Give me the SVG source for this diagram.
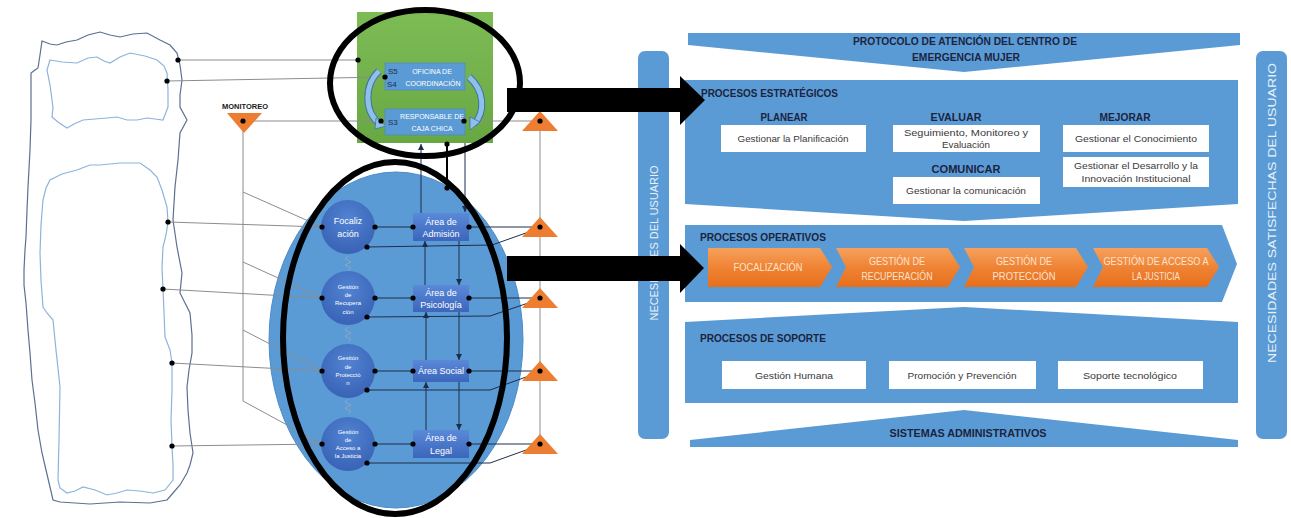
<svg xmlns="http://www.w3.org/2000/svg" width="1291" height="518" viewBox="0 0 1291 518">
<defs>
  <linearGradient id="gGreen" x1="0" y1="0" x2="0" y2="1"><stop offset="0" stop-color="#7dbb55"/><stop offset="1" stop-color="#68a843"/></linearGradient>
  <radialGradient id="gCircle" cx="0.5" cy="0.35" r="0.7"><stop offset="0" stop-color="#5283d3"/><stop offset="1" stop-color="#3760b3"/></radialGradient>
  <linearGradient id="gArea" x1="0" y1="0" x2="0" y2="1"><stop offset="0" stop-color="#5b89d9"/><stop offset="1" stop-color="#3b66bb"/></linearGradient>
  <linearGradient id="gOrange" x1="0" y1="0" x2="0" y2="1"><stop offset="0" stop-color="#f6a05c"/><stop offset="0.5" stop-color="#ef8334"/><stop offset="1" stop-color="#e66f1c"/></linearGradient>
  <marker id="arr" viewBox="0 0 6 6" refX="6" refY="3" markerWidth="6" markerHeight="6" markerUnits="userSpaceOnUse" orient="auto"><path d="M0,0 L6,3 L0,6 z" fill="#1f2d4d"/></marker>
</defs>
<style>
  .gl{stroke:#8c8c8c;stroke-width:1;fill:none}
  .dl{stroke:#1f2d4d;stroke-width:1;fill:none}
  .dot{fill:#000}
  .blob{fill:none;stroke:#5d6f92;stroke-width:1.2}
  .iblob{fill:none;stroke:#8db3dc;stroke-width:1.2}
  .tri{fill:#ed7d31}
  .ring{fill:none;stroke:#000;stroke-width:6}
  .wt{font-family:"Liberation Sans",Arial,sans-serif;fill:#fff;text-anchor:middle}
  .nv{font-family:"Liberation Sans",Arial,sans-serif;fill:#1f2d4d}
  .rb{fill:#5b9bd5}
  .ttl{font-family:"Liberation Sans",Arial,sans-serif;font-weight:bold;fill:#1b2440;font-size:11px}
  .bx{fill:#fff}
  .bt{font-family:"Liberation Sans",Arial,sans-serif;fill:#3a3a3a;font-size:9.5px;text-anchor:middle}
  .ot{font-family:"Liberation Sans",Arial,sans-serif;fill:#fde3cf;font-size:10px;text-anchor:middle}
  .arrow{fill:#000}
</style>

<!-- freehand outlines -->
<g id="blobs">
  <path class="blob" d="M42,41 L50,44 L57,45 L66,42 L77,40 L88,35 L100,32 L110,35 L120,37 L133,34 L147,33 L160,40 L170,45 L177,53 L180,65 L182,80 L180,95 L180,107 L187,120 L180,133 L178,160 L175,187 L173,220 L177,247 L182,273 L180,293 L190,313 L192,335 L192,353 L189,370 L187,387 L188,410 L190,433 L193,453 L190,465 L187,473 L180,485 L173,493 L167,500 L150,503 L120,502 L90,504 L60,502 L53,500 L50,487 L46,470 L42,453 L38,430 L35,403 L32,380 L30,353 L28,330 L26,303 L24,285 L24,270 L25,250 L26,237 L27,210 L28,187 L30,150 L31,120 L31,95 L31,73 L35,70 L38,68 L40,55 Z"/>
  <path class="iblob" d="M50,60 L62,62 L77,63 L88,58 L97,57 L104,61 L110,63 L120,57 L130,53 L145,56 L157,60 L164,66 L167,73 L168,90 L168,107 L163,120 L155,119 L147,118 L137,120 L127,120 L117,117 L107,118 L95,119 L83,120 L74,124 L67,128 L58,122 L52,117 L53,108 L52,100 L50,85 L47,70 Z"/>
  <path class="iblob" d="M77,170 L90,165 L100,165 L120,163 L140,163 L150,170 L157,177 L162,190 L167,207 L168,222 L166,235 L163,247 L162,268 L163,289 L164,312 L165,337 L170,350 L172,363 L172,390 L171,420 L172,446 L173,465 L173,480 L165,490 L153,493 L140,491 L127,490 L117,493 L107,495 L95,490 L83,487 L75,491 L67,493 L60,488 L58,480 L59,440 L60,387 L56,350 L53,320 L47,313 L43,307 L41,280 L40,253 L41,225 L43,200 L46,188 L50,180 L62,174 Z"/>
</g>

<!-- big blue egg -->
<ellipse id="egg" cx="396" cy="340" rx="127" ry="168" fill="#5b9bd5" stroke="#4c8bc9" stroke-width="1"/>

<!-- green office box -->
<g id="oficina-group">
  <rect x="357" y="12" width="136" height="131" fill="url(#gGreen)"/>
</g>

<g id="connectors">
  <path class="gl" d="M178,60 H358"/>
  <path class="gl" d="M167,81 L385,77"/>
  <path class="gl" d="M243,121 H381"/>
  <path class="gl" d="M243,121 V401"/>
  <path class="gl" d="M243,192 L322,227"/>
  <path class="gl" d="M243,262 L322,298"/>
  <path class="gl" d="M243,330 L322,371"/>
  <path class="gl" d="M243,401 L322,444"/>
  <path class="gl" d="M168,222 L322,227"/>
  <path class="gl" d="M163,289 L322,298"/>
  <path class="gl" d="M172,363 L322,371"/>
  <path class="gl" d="M172,446 L322,444"/>
  <path class="gl" d="M464,121 H540"/>
  <path class="gl" d="M540,121 V444"/>
  <path class="dl" d="M469,227 H540"/>
  <path class="dl" d="M469,298 H540"/>
  <path class="dl" d="M469,371 H540"/>
  <path class="dl" d="M469,444 H540"/>
  <path class="dl" d="M367,247 L492,245 L540,228"/>
  <path class="dl" d="M367,317 L490,316 L540,299"/>
  <path class="dl" d="M367,390 L490,390 L540,372"/>
  <path class="dl" d="M367,463 L490,463 L540,445"/>
  <path class="dl" d="M375,227 H413"/>
  <path class="dl" d="M375,298 H413"/>
  <path class="dl" d="M375,371 H413"/>
  <path class="dl" d="M375,444 H413"/>
  <path class="dl" d="M421,213 V144" marker-end="url(#arr)"/>
  <path class="dl" d="M425,285 V241" marker-end="url(#arr)"/>
  <path class="dl" d="M426,360 V312" marker-end="url(#arr)"/>
  <path class="dl" d="M426,430 V382" marker-end="url(#arr)"/>
  <path class="dl" d="M465,143 V212" marker-end="url(#arr)"/>
  <path class="dl" d="M459,241 V285" marker-end="url(#arr)"/>
  <path class="dl" d="M459,312 V360" marker-end="url(#arr)"/>
  <path class="dl" d="M459,382 V430" marker-end="url(#arr)"/>
  <path d="M447,144 V188" stroke="#000" stroke-width="2" fill="none"/>
  <path d="M348,256 l-3,3 l6,3 l-6,3 l6,3 l-3,3" stroke="#9aa7bd" stroke-width="0.8" fill="none"/>
  <path d="M348,327 l-3,3 l6,3 l-6,3 l6,3 l-3,3" stroke="#9aa7bd" stroke-width="0.8" fill="none"/>
  <path d="M348,399 l-3,3 l6,3 l-6,3 l6,3 l-3,3" stroke="#9aa7bd" stroke-width="0.8" fill="none"/>
  <path d="M379,71 C364,85 364,112 380,124" stroke="#3f73a8" stroke-width="7" fill="none"/>
  <path d="M379,71 C364,85 364,112 380,124" stroke="#8fc0ea" stroke-width="5" fill="none"/>
  <polygon points="376,118 386,126 375,129" fill="#8fc0ea" stroke="#3f73a8" stroke-width="0.8"/>
  <path d="M469,77 C484,90 486,112 474,124" stroke="#3f73a8" stroke-width="7" fill="none"/>
  <path d="M469,77 C484,90 486,112 474,124" stroke="#8fc0ea" stroke-width="5" fill="none"/>
  <polygon points="470,117 480,122 470,130" fill="#8fc0ea" stroke="#3f73a8" stroke-width="0.8"/>
</g>

<g id="oficina-coordinacion">
  <rect x="385" y="63" width="80" height="27" fill="#5b9bd5" stroke="#4a86c0" stroke-width="0.6"/>
  <text class="wt" x="432" y="74" font-size="7">OFICINA DE</text>
  <text class="wt" x="433" y="86" font-size="7">COORDINACIÓN</text>
  <text class="nv" x="388" y="74" font-size="8">S5</text>
  <text class="nv" x="387" y="87" font-size="8">S4</text>
</g>
<g id="responsable-caja">
  <rect x="385" y="109" width="80" height="26" fill="#5b9bd5" stroke="#4a86c0" stroke-width="0.6"/>
  <text class="wt" x="432" y="119" font-size="7">RESPONSABLE DE</text>
  <text class="wt" x="432" y="131" font-size="7">CAJA CHICA</text>
  <text class="nv" x="388" y="125" font-size="8">S3</text>
</g>

<g id="monitoreo">
  <text x="245" y="109" font-family="Liberation Sans,Arial,sans-serif" font-weight="bold" font-size="7.5" fill="#1a1a1a" text-anchor="middle">MONITOREO</text>
  <polygon class="tri" points="227,113 262,113 244,133"/>
</g>

<g id="focalizacion">
  <circle cx="348" cy="227" r="27" fill="url(#gCircle)"/>
  <text class="wt" x="348" y="224" font-size="9">Focaliz</text>
  <text class="wt" x="348" y="237" font-size="9">ación</text>
</g>
<g id="gestion-recuperacion">
  <circle cx="348" cy="298" r="27" fill="url(#gCircle)"/>
  <text class="wt" x="348" y="289" font-size="6">Gestión</text>
  <text class="wt" x="348" y="297" font-size="6">de</text>
  <text class="wt" x="348" y="305" font-size="6">Recupera</text>
  <text class="wt" x="348" y="314" font-size="6">ción</text>
</g>
<g id="gestion-proteccion">
  <circle cx="348" cy="371" r="27" fill="url(#gCircle)"/>
  <text class="wt" x="348" y="360" font-size="6">Gestión</text>
  <text class="wt" x="348" y="369" font-size="6">de</text>
  <text class="wt" x="348" y="377" font-size="6">Protecció</text>
  <text class="wt" x="348" y="385" font-size="6">n</text>
</g>
<g id="gestion-acceso">
  <circle cx="348" cy="444" r="27" fill="url(#gCircle)"/>
  <text class="wt" x="348" y="434" font-size="6">Gestión</text>
  <text class="wt" x="348" y="442" font-size="6">de</text>
  <text class="wt" x="348" y="450" font-size="6">Acceso a</text>
  <text class="wt" x="348" y="458" font-size="6">la Justicia</text>
</g>

<g id="area-admision">
  <rect x="413" y="213" width="56" height="28" fill="url(#gArea)"/>
  <text class="wt" x="441" y="225" font-size="9">Área de</text>
  <text class="wt" x="441" y="237" font-size="9">Admisión</text>
</g>
<g id="area-psicologia">
  <rect x="413" y="285" width="56" height="27" fill="url(#gArea)"/>
  <text class="wt" x="441" y="296" font-size="9">Área de</text>
  <text class="wt" x="441" y="308" font-size="9">Psicología</text>
</g>
<g id="area-social">
  <rect x="413" y="360" width="56" height="22" fill="url(#gArea)"/>
  <text class="wt" x="441" y="374" font-size="9">Área Social</text>
</g>
<g id="area-legal">
  <rect x="413" y="430" width="56" height="28" fill="url(#gArea)"/>
  <text class="wt" x="441" y="441" font-size="9">Área de</text>
  <text class="wt" x="441" y="454" font-size="9">Legal</text>
</g>

<g id="monitor-triangles">
  <polygon class="tri" points="522,131 558,131 540,111"/>
  <polygon class="tri" points="522,237 558,237 540,217"/>
  <polygon class="tri" points="522,308 558,308 540,288"/>
  <polygon class="tri" points="522,381 558,381 540,361"/>
  <polygon class="tri" points="522,454 558,454 540,434"/>
</g>

<g id="dots">
  <circle class="dot" cx="178" cy="60" r="2.6"/><circle class="dot" cx="167" cy="81" r="2.6"/>
  <circle class="dot" cx="168" cy="222" r="2.6"/><circle class="dot" cx="163" cy="289" r="2.6"/>
  <circle class="dot" cx="172" cy="363" r="2.6"/><circle class="dot" cx="172" cy="446" r="2.6"/>
  <circle class="dot" cx="358" cy="60" r="2.6"/><circle class="dot" cx="385" cy="77" r="2.6"/>
  <circle class="dot" cx="381" cy="121" r="2.6"/><circle class="dot" cx="464" cy="121" r="2.6"/>
  <circle class="dot" cx="447" cy="144" r="2.6"/><circle class="dot" cx="447" cy="188" r="2.6"/>
  <circle class="dot" cx="243" cy="121" r="2.6"/>
  <circle class="dot" cx="322" cy="227" r="2.6"/><circle class="dot" cx="375" cy="227" r="2.6"/><circle class="dot" cx="367" cy="247" r="2.6"/>
  <circle class="dot" cx="322" cy="298" r="2.6"/><circle class="dot" cx="375" cy="298" r="2.6"/><circle class="dot" cx="367" cy="317" r="2.6"/>
  <circle class="dot" cx="322" cy="371" r="2.6"/><circle class="dot" cx="375" cy="371" r="2.6"/><circle class="dot" cx="367" cy="390" r="2.6"/>
  <circle class="dot" cx="322" cy="444" r="2.6"/><circle class="dot" cx="375" cy="444" r="2.6"/><circle class="dot" cx="367" cy="463" r="2.6"/>
  <circle class="dot" cx="413" cy="227" r="2.6"/><circle class="dot" cx="469" cy="227" r="2.6"/>
  <circle class="dot" cx="413" cy="298" r="2.6"/><circle class="dot" cx="469" cy="298" r="2.6"/>
  <circle class="dot" cx="413" cy="371" r="2.6"/><circle class="dot" cx="469" cy="371" r="2.6"/>
  <circle class="dot" cx="413" cy="444" r="2.6"/><circle class="dot" cx="469" cy="444" r="2.6"/>
  <circle class="dot" cx="540" cy="121" r="2.6"/><circle class="dot" cx="540" cy="227" r="2.6"/>
  <circle class="dot" cx="540" cy="298" r="2.6"/><circle class="dot" cx="540" cy="371" r="2.6"/>
  <circle class="dot" cx="540" cy="444" r="2.6"/>
</g>

<g id="rings">
  <ellipse class="ring" cx="425" cy="83" rx="95" ry="73"/>
  <ellipse class="ring" cx="395" cy="338" rx="112" ry="176"/>
</g>

<g id="necesidades-usuario">
  <rect class="rb" x="638" y="51" width="31" height="388" rx="7"/>
  <text transform="translate(658,243) rotate(-90)" font-family="Liberation Sans,Arial,sans-serif" font-size="11" fill="#e8f1fa" text-anchor="middle" textLength="155" lengthAdjust="spacingAndGlyphs">NECESIDADES DEL USUARIO</text>
</g>
<g id="necesidades-satisfechas">
  <rect class="rb" x="1256" y="51" width="31" height="388" rx="7"/>
  <text transform="translate(1276,213) rotate(-90)" font-family="Liberation Sans,Arial,sans-serif" font-size="11" fill="#e8f1fa" text-anchor="middle" textLength="300" lengthAdjust="spacingAndGlyphs">NECESIDADES SATISFECHAS DEL USUARIO</text>
</g>
<g id="protocolo">
  <polygon class="rb" points="688,33 1240,33 1240,45 964,72 688,45"/>
  <text class="ttl" x="965" y="45" text-anchor="middle" textLength="224" lengthAdjust="spacingAndGlyphs">PROTOCOLO DE ATENCIÓN DEL CENTRO DE</text>
  <text class="ttl" x="966" y="61" text-anchor="middle" textLength="108" lengthAdjust="spacingAndGlyphs">EMERGENCIA MUJER</text>
</g>
<g id="procesos-estrategicos">
  <polygon class="rb" points="685,80 1238,80 1238,204 964,221 685,204"/>
  <text class="ttl" x="701" y="97" textLength="137" lengthAdjust="spacingAndGlyphs">PROCESOS ESTRATÉGICOS</text>
  <text class="ttl" x="784" y="121" text-anchor="middle" textLength="47" lengthAdjust="spacingAndGlyphs">PLANEAR</text>
  <text class="ttl" x="956" y="121" text-anchor="middle" textLength="51" lengthAdjust="spacingAndGlyphs">EVALUAR</text>
  <text class="ttl" x="1125" y="121" text-anchor="middle" textLength="51" lengthAdjust="spacingAndGlyphs">MEJORAR</text>
  <text class="ttl" x="966" y="173" text-anchor="middle" textLength="69" lengthAdjust="spacingAndGlyphs">COMUNICAR</text>
  <rect class="bx" x="721" y="125" width="145" height="27"/>
  <text class="bt" x="793" y="142" textLength="111" lengthAdjust="spacingAndGlyphs">Gestionar la Planificación</text>
  <rect class="bx" x="893" y="125" width="147" height="27"/>
  <text class="bt" x="966" y="136" textLength="124" lengthAdjust="spacingAndGlyphs">Seguimiento, Monitoreo y</text>
  <text class="bt" x="966" y="148" textLength="48" lengthAdjust="spacingAndGlyphs">Evaluación</text>
  <rect class="bx" x="1063" y="125" width="146" height="27"/>
  <text class="bt" x="1136" y="142" textLength="122" lengthAdjust="spacingAndGlyphs">Gestionar el Conocimiento</text>
  <rect class="bx" x="1063" y="157" width="146" height="30"/>
  <text class="bt" x="1136" y="169" textLength="124" lengthAdjust="spacingAndGlyphs">Gestionar el Desarrollo y la</text>
  <text class="bt" x="1136" y="182" textLength="109" lengthAdjust="spacingAndGlyphs">Innovación Institucional</text>
  <rect class="bx" x="893" y="177" width="147" height="27"/>
  <text class="bt" x="966" y="194" textLength="120" lengthAdjust="spacingAndGlyphs">Gestionar la comunicación</text>
</g>
<g id="procesos-operativos">
  <polygon class="rb" points="685,225 1222,225 1237,264 1222,302 685,302"/>
  <text class="ttl" x="700" y="241" textLength="126" lengthAdjust="spacingAndGlyphs">PROCESOS OPERATIVOS</text>
</g>
<g id="focalizacion-op">
  <polygon fill="url(#gOrange)" points="708,248 820,248 832,267 820,287 708,287"/>
  <text class="ot" x="768" y="271" textLength="69" lengthAdjust="spacingAndGlyphs">FOCALIZACIÓN</text>
</g>
<g id="recuperacion-op">
  <polygon fill="url(#gOrange)" points="836,248 948,248 960,267 948,287 836,287 846,267"/>
  <text class="ot" x="897" y="265" textLength="56" lengthAdjust="spacingAndGlyphs">GESTIÓN DE</text>
  <text class="ot" x="897" y="280" textLength="71" lengthAdjust="spacingAndGlyphs">RECUPERACIÓN</text>
</g>
<g id="proteccion-op">
  <polygon fill="url(#gOrange)" points="964,248 1076,248 1088,267 1076,287 964,287 974,267"/>
  <text class="ot" x="1024" y="265" textLength="56" lengthAdjust="spacingAndGlyphs">GESTIÓN DE</text>
  <text class="ot" x="1024" y="280" textLength="63" lengthAdjust="spacingAndGlyphs">PROTECCIÓN</text>
</g>
<g id="acceso-op">
  <polygon fill="url(#gOrange)" points="1093,248 1207,248 1219,267 1207,287 1093,287 1103,267"/>
  <text class="ot" x="1156" y="265" textLength="105" lengthAdjust="spacingAndGlyphs">GESTIÓN DE ACCESO A</text>
  <text class="ot" x="1156" y="280" textLength="48" lengthAdjust="spacingAndGlyphs">LA JUSTICIA</text>
</g>
<g id="procesos-soporte">
  <polygon class="rb" points="685,322 964,307 1238,322 1238,403 685,403"/>
  <text class="ttl" x="700" y="342" textLength="126" lengthAdjust="spacingAndGlyphs">PROCESOS DE SOPORTE</text>
  <rect class="bx" x="722" y="361" width="144" height="28"/>
  <text class="bt" x="794" y="379" textLength="78" lengthAdjust="spacingAndGlyphs">Gestión Humana</text>
  <rect class="bx" x="889" y="361" width="147" height="28"/>
  <text class="bt" x="962" y="379" textLength="109" lengthAdjust="spacingAndGlyphs">Promoción y Prevención</text>
  <rect class="bx" x="1058" y="361" width="145" height="28"/>
  <text class="bt" x="1130" y="379" textLength="94" lengthAdjust="spacingAndGlyphs">Soporte tecnológico</text>
</g>
<g id="sistemas-administrativos">
  <polygon class="rb" points="690,447 690,440 964,410 1238,440 1238,447"/>
  <text class="ttl" x="968" y="437" text-anchor="middle" textLength="157" lengthAdjust="spacingAndGlyphs">SISTEMAS ADMINISTRATIVOS</text>
</g>

<g id="black-arrows">
  <polygon class="arrow" points="507,88 680,88 680,76 705,100 680,125 680,112 507,112"/>
  <polygon class="arrow" points="507,256 680,256 680,244 704,268 680,293 680,281 507,281"/>
</g>
</svg>
